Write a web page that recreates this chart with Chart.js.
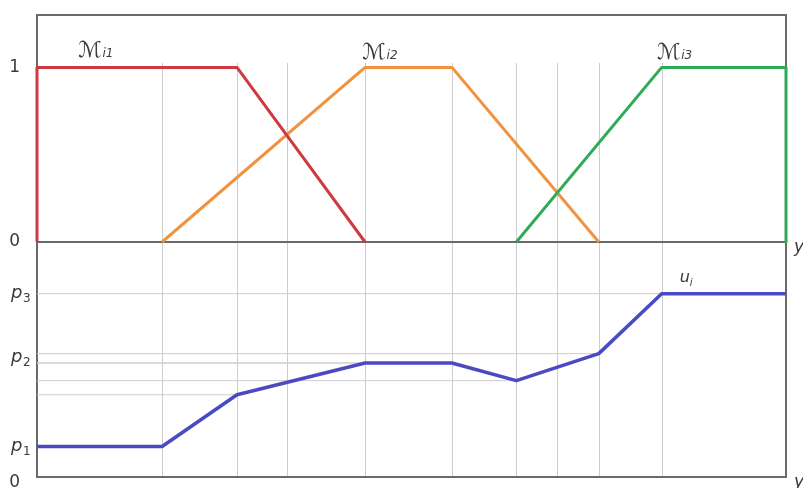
<!DOCTYPE html>
<html><head><meta charset="utf-8">
<script src="https://cdn.jsdelivr.net/npm/chart.js@4.4.1/dist/chart.umd.min.js"></script>
<style>html,body{margin:0;padding:0;background:#fff;} #wrap{width:803px;height:488px;position:relative;}</style>
</head><body><div id="wrap"><canvas id="c" width="803" height="488"></canvas></div>
<script>
// breakpoints on the input axis (vertical guide lines)
const breakX = [16.7, 26.7, 33.4, 43.8, 55.4, 64.0, 69.4, 75.0, 83.4];
// membership functions
const m1X = [0, 0, 26.7, 43.8];
const m1Y = [0, 1, 1, 0];
const m2X = [16.7, 43.8, 55.4, 75.0];
const m2Y = [0, 1, 1, 0];
const m3X = [64.0, 83.4, 100, 100];
const m3Y = [0, 1, 1, 0];
// output u_i
const uX = [0, 16.7, 26.7, 43.8, 55.4, 64.0, 75.0, 83.4, 100];
const uY = [0.13, 0.13, 0.35, 0.485, 0.485, 0.41, 0.525, 0.78, 0.78];
// tick labels
const topTickValues = [0, 1];
const topTickLabels = ['0', '1'];
const botTickValues = [0, 0.13, 0.525, 0.78];
const botTickLabels = ['0', 'p1', 'p2', 'p3'];
const seriesNames = ['\u2133', '\u2133', '\u2133', 'u'];
const seriesSubs = ['i1', 'i2', 'i3', 'i'];

const pts = (xs, ys) => xs.map((v, i) => ({x: v, y: ys[i]}));
const GRID = '#cdcdcd';
const AXIS = '#6a6a6a';
const TXT = '#3a3a3a';

const projSets = [];
for (let i = 2; i < uX.length - 1; i++) {
  projSets.push({
    data: [{x: 0, y: uY[i]}, {x: uX[i], y: uY[i]}],
    yAxisID: 'yBot', borderColor: GRID, borderWidth: 1, pointRadius: 0, order: 10, clip: false
  });
}

const framePlugin = {
  id: 'frame',
  beforeDatasetsDraw(chart) {
    const {ctx, chartArea: a, scales} = chart;
    const x = scales.x, yT = scales.yTop, yB = scales.yBot;
    ctx.save();
    ctx.strokeStyle = GRID; ctx.lineWidth = 1;
    const top = yT.getPixelForValue(1.025), bot = yB.getPixelForValue(0);
    breakX.forEach(v => {
      const px = Math.round(x.getPixelForValue(v)) + 0.5;
      ctx.beginPath(); ctx.moveTo(px, top); ctx.lineTo(px, bot); ctx.stroke();
    });
    ctx.strokeStyle = AXIS; ctx.lineWidth = 2;
    const mid = yT.getPixelForValue(0);
    ctx.beginPath();
    ctx.moveTo(a.left, a.top); ctx.lineTo(a.right, a.top); ctx.lineTo(a.right, a.bottom);
    ctx.lineTo(a.left, a.bottom); ctx.closePath();
    ctx.moveTo(a.left, mid); ctx.lineTo(a.right, mid);
    ctx.stroke();
    ctx.restore();
  },
  afterDraw(chart) {
    const {ctx, chartArea: a, scales} = chart;
    const x = scales.x, yT = scales.yTop, yB = scales.yBot;
    ctx.save();
    ctx.fillStyle = TXT;
    ctx.textBaseline = 'alphabetic';
    const spots = [
      [x.getPixelForValue(0) + 41, yT.getPixelForValue(1) - 10],
      [x.getPixelForValue(43.8) - 3, yT.getPixelForValue(1) - 8],
      [x.getPixelForValue(83.4) - 5, yT.getPixelForValue(1) - 8]
    ];
    spots.forEach((s, i) => {
      ctx.font = '22px "DejaVu Sans"';
      ctx.fillText(seriesNames[i], s[0], s[1]);
      const w = ctx.measureText(seriesNames[i]).width;
      ctx.font = 'italic 12px "DejaVu Sans"';
      ctx.fillText(seriesSubs[i], s[0] + w + 1, s[1]);
    });
    // u_i label
    const ux = x.getPixelForValue(83.4) + 18, uy = yB.getPixelForValue(0.78) - 12;
    ctx.font = 'italic 16px "DejaVu Sans"';
    ctx.fillText(seriesNames[3], ux, uy);
    const uw = ctx.measureText(seriesNames[3]).width;
    ctx.font = 'italic 10px "DejaVu Sans"';
    ctx.fillText(seriesSubs[3], ux + uw, uy + 4);
    // p_k tick labels with subscripts
    ctx.textBaseline = 'middle';
    for (let i = 1; i < botTickValues.length; i++) {
      const py = yB.getPixelForValue(botTickValues[i]) + (i === 2 ? 4 : 0);
      const lab = botTickLabels[i];
      ctx.font = 'italic 18px "DejaVu Sans"';
      ctx.fillText(lab[0], a.left - 26, py);
      ctx.font = '12px "DejaVu Sans"';
      ctx.fillText(lab.slice(1), a.left - 14, py + 5);
    }
    // axis variable labels at right
    ctx.textBaseline = 'alphabetic';
    ctx.font = 'italic 17px "DejaVu Sans"';
    ctx.fillText('y', a.right + 8, yT.getPixelForValue(0) + 10);
    ctx.fillText('y', a.right + 8, a.bottom + 10);
    ctx.restore();
  }
};

new Chart(document.getElementById('c'), {
  type: 'line',
  data: {
    datasets: [
      {data: pts(m1X, m1Y), yAxisID: 'yTop', borderColor: '#cf3a42', borderWidth: 3, pointRadius: 0, order: 1, clip: false},
      {data: pts(m2X, m2Y), yAxisID: 'yTop', borderColor: '#f0923e', borderWidth: 3, pointRadius: 0, order: 2, clip: false},
      {data: pts(m3X, m3Y), yAxisID: 'yTop', borderColor: '#2faa55', borderWidth: 3, pointRadius: 0, order: 1, clip: false},
      {data: pts(uX, uY), yAxisID: 'yBot', borderColor: '#4a4ac2', borderWidth: 3.5, pointRadius: 0, order: 0, clip: false},
      ...projSets
    ]
  },
  options: {
    responsive: false,
    animation: false,
    events: [],
    layout: {padding: {left: 0, top: 15, right: 17, bottom: 11}},
    plugins: {legend: {display: false}, tooltip: {enabled: false}},
    elements: {line: {tension: 0, borderJoinStyle: 'round', borderCapStyle: 'butt'}},
    scales: {
      x: {type: 'linear', min: 0, max: 100, display: false},
      yBot: {
        type: 'linear', position: 'left', stack: 'v', stackWeight: 235, min: 0, max: 1,
        grid: {display: false}, border: {display: false},
        afterBuildTicks: s => { s.ticks = botTickValues.map(v => ({value: v})); },
        afterFit: s => { s.width = 37; s.paddingTop = 0; s.paddingBottom = 0; },
        ticks: {
          padding: 9, color: TXT, labelOffset: 6,
          callback: (v, i) => (i === 0 ? botTickLabels[0] : ''),
          font: {family: 'DejaVu Sans', size: 17}
        }
      },
      yTop: {
        type: 'linear', position: 'left', stack: 'v', stackWeight: 227, min: 0, max: 1.3,
        grid: {display: false}, border: {display: false},
        afterBuildTicks: s => { s.ticks = topTickValues.map(v => ({value: v})); },
        afterFit: s => { s.width = 37; s.paddingTop = 0; s.paddingBottom = 0; },
        ticks: {
          padding: 9, color: TXT,
          callback: (v, i) => topTickLabels[i],
          font: {family: 'DejaVu Sans', size: 17}
        }
      }
    }
  },
  plugins: [framePlugin]
});
</script>
</body></html>
